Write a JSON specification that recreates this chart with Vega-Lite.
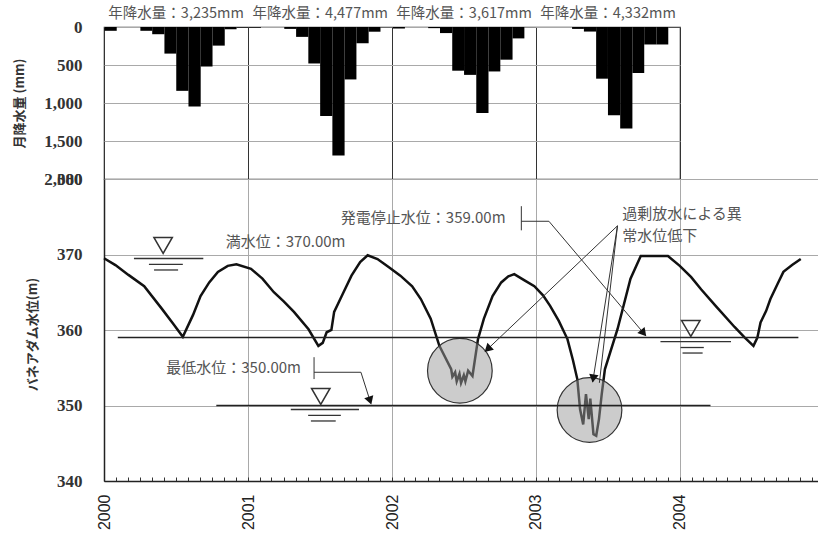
{
  "$schema": "https://vega.github.io/schema/vega-lite/v6.json",
  "background": "white",
  "padding": {"left": 12, "top": 5, "right": 0, "bottom": 0},
  "spacing": 0,
  "bounds": "flush",
  "config": {
    "font": "Noto Sans CJK JP",
    "view": {"stroke": null},
    "axis": {
      "labelFont": "Liberation Serif",
      "labelFontSize": 17,
      "labelFontWeight": "bold",
      "labelColor": "#333",
      "titleFont": "Noto Sans CJK JP",
      "titleFontSize": 13,
      "titleFontWeight": "bold",
      "titleColor": "#333",
      "gridColor": "#a9a9a9",
      "gridWidth": 1
    }
  },
  "datasets": {
    "rain": [
      {"month": "2000-01-01", "rain": 50}, {"month": "2000-02-01", "rain": 0}, {"month": "2000-03-01", "rain": 0},
      {"month": "2000-04-01", "rain": 50}, {"month": "2000-05-01", "rain": 95}, {"month": "2000-06-01", "rain": 350},
      {"month": "2000-07-01", "rain": 840}, {"month": "2000-08-01", "rain": 1045}, {"month": "2000-09-01", "rain": 520},
      {"month": "2000-10-01", "rain": 245}, {"month": "2000-11-01", "rain": 30}, {"month": "2000-12-01", "rain": 10},
      {"month": "2001-01-01", "rain": 10}, {"month": "2001-02-01", "rain": 0}, {"month": "2001-03-01", "rain": 0},
      {"month": "2001-04-01", "rain": 25}, {"month": "2001-05-01", "rain": 130}, {"month": "2001-06-01", "rain": 480},
      {"month": "2001-07-01", "rain": 1170}, {"month": "2001-08-01", "rain": 1690}, {"month": "2001-09-01", "rain": 690},
      {"month": "2001-10-01", "rain": 215}, {"month": "2001-11-01", "rain": 62}, {"month": "2001-12-01", "rain": 5},
      {"month": "2002-01-01", "rain": 20}, {"month": "2002-02-01", "rain": 0}, {"month": "2002-03-01", "rain": 0},
      {"month": "2002-04-01", "rain": 15}, {"month": "2002-05-01", "rain": 80}, {"month": "2002-06-01", "rain": 575},
      {"month": "2002-07-01", "rain": 630}, {"month": "2002-08-01", "rain": 1130}, {"month": "2002-09-01", "rain": 585},
      {"month": "2002-10-01", "rain": 430}, {"month": "2002-11-01", "rain": 150}, {"month": "2002-12-01", "rain": 2},
      {"month": "2003-01-01", "rain": 0}, {"month": "2003-02-01", "rain": 0}, {"month": "2003-03-01", "rain": 0},
      {"month": "2003-04-01", "rain": 25}, {"month": "2003-05-01", "rain": 60}, {"month": "2003-06-01", "rain": 680},
      {"month": "2003-07-01", "rain": 1160}, {"month": "2003-08-01", "rain": 1335}, {"month": "2003-09-01", "rain": 605},
      {"month": "2003-10-01", "rain": 230}, {"month": "2003-11-01", "rain": 230}, {"month": "2003-12-01", "rain": 7}
    ],
    "level": [
      {"t": "2000-01-01", "lv": 369.5}, {"t": "2000-01-30", "lv": 368.6}, {"t": "2000-03-03", "lv": 367.3},
      {"t": "2000-04-12", "lv": 365.8}, {"t": "2000-05-27", "lv": 362.8}, {"t": "2000-06-25", "lv": 360.8},
      {"t": "2000-07-19", "lv": 359.1}, {"t": "2000-08-14", "lv": 362.0}, {"t": "2000-09-02", "lv": 364.5},
      {"t": "2000-09-24", "lv": 366.3}, {"t": "2000-10-16", "lv": 367.7}, {"t": "2000-11-10", "lv": 368.5},
      {"t": "2000-12-02", "lv": 368.7}, {"t": "2001-01-08", "lv": 368.1}, {"t": "2001-02-06", "lv": 366.8},
      {"t": "2001-03-07", "lv": 365.0}, {"t": "2001-04-01", "lv": 363.8}, {"t": "2001-04-27", "lv": 362.4},
      {"t": "2001-06-03", "lv": 360.1}, {"t": "2001-06-28", "lv": 357.9}, {"t": "2001-07-09", "lv": 358.3},
      {"t": "2001-07-19", "lv": 359.7}, {"t": "2001-07-31", "lv": 360.0}, {"t": "2001-08-07", "lv": 362.4},
      {"t": "2001-08-29", "lv": 364.8}, {"t": "2001-09-20", "lv": 367.2}, {"t": "2001-10-12", "lv": 369.0},
      {"t": "2001-10-31", "lv": 369.9}, {"t": "2001-11-25", "lv": 369.4}, {"t": "2001-12-24", "lv": 368.3},
      {"t": "2002-01-22", "lv": 367.2}, {"t": "2002-02-21", "lv": 365.8}, {"t": "2002-03-15", "lv": 364.1},
      {"t": "2002-04-09", "lv": 361.5}, {"t": "2002-05-01", "lv": 357.9}, {"t": "2002-05-31", "lv": 354.8},
      {"t": "2002-06-03", "lv": 353.8}, {"t": "2002-06-10", "lv": 354.4}, {"t": "2002-06-14", "lv": 353.2},
      {"t": "2002-06-21", "lv": 354.2}, {"t": "2002-06-25", "lv": 353.0}, {"t": "2002-07-02", "lv": 354.0},
      {"t": "2002-07-06", "lv": 353.2}, {"t": "2002-07-13", "lv": 354.6}, {"t": "2002-07-24", "lv": 353.9},
      {"t": "2002-08-07", "lv": 358.8}, {"t": "2002-08-22", "lv": 361.5}, {"t": "2002-09-13", "lv": 364.5},
      {"t": "2002-10-05", "lv": 366.3}, {"t": "2002-10-23", "lv": 367.1}, {"t": "2002-11-07", "lv": 367.4},
      {"t": "2002-12-02", "lv": 366.6}, {"t": "2002-12-28", "lv": 365.8}, {"t": "2003-01-19", "lv": 364.6},
      {"t": "2003-02-06", "lv": 363.2}, {"t": "2003-02-28", "lv": 361.2}, {"t": "2003-03-22", "lv": 358.8},
      {"t": "2003-04-05", "lv": 356.0}, {"t": "2003-04-16", "lv": 353.5}, {"t": "2003-04-23", "lv": 349.5},
      {"t": "2003-05-01", "lv": 347.5}, {"t": "2003-05-08", "lv": 351.5}, {"t": "2003-05-15", "lv": 348.2},
      {"t": "2003-05-19", "lv": 350.9}, {"t": "2003-05-27", "lv": 346.2}, {"t": "2003-06-03", "lv": 346.0},
      {"t": "2003-06-10", "lv": 348.2}, {"t": "2003-06-17", "lv": 351.5}, {"t": "2003-06-25", "lv": 354.8},
      {"t": "2003-07-27", "lv": 360.1}, {"t": "2003-08-29", "lv": 366.8}, {"t": "2003-09-24", "lv": 369.8},
      {"t": "2003-12-02", "lv": 369.8}, {"t": "2004-01-01", "lv": 368.5}, {"t": "2004-01-30", "lv": 367.0},
      {"t": "2004-02-24", "lv": 365.4}, {"t": "2004-04-01", "lv": 363.2}, {"t": "2004-05-19", "lv": 360.4},
      {"t": "2004-06-14", "lv": 359.0}, {"t": "2004-07-06", "lv": 357.9}, {"t": "2004-07-16", "lv": 359.0},
      {"t": "2004-07-24", "lv": 361.0}, {"t": "2004-08-07", "lv": 362.5}, {"t": "2004-08-18", "lv": 364.1},
      {"t": "2004-09-06", "lv": 366.2}, {"t": "2004-09-20", "lv": 367.7}, {"t": "2004-10-12", "lv": 368.6},
      {"t": "2004-11-03", "lv": 369.4}
    ],
    "circles": [
      {"t": "2002-06-22", "lv": 354.6},
      {"t": "2003-05-17", "lv": 349.4}
    ],
    "levels": [
      {"t": "2000-02-05", "t2": "2004-10-28", "lv": 359, "lv2": 359},
      {"t": "2000-10-12", "t2": "2004-03-19", "lv": 350, "lv2": 350}
    ],
    "gauge": [
      {"t": "2000-03-17", "t2": "2000-09-09", "lv": 369.47, "lv2": 369.47},
      {"t": "2000-04-24", "t2": "2000-07-19", "lv": 368.68, "lv2": 368.68},
      {"t": "2000-05-07", "t2": "2000-07-07", "lv": 367.95, "lv2": 367.95},
      {"t": "2003-11-13", "t2": "2004-05-10", "lv": 358.47, "lv2": 358.47},
      {"t": "2004-01-03", "t2": "2004-03-02", "lv": 357.68, "lv2": 357.68},
      {"t": "2004-01-08", "t2": "2004-02-28", "lv": 356.95, "lv2": 356.95},
      {"t": "2001-04-19", "t2": "2001-10-09", "lv": 349.47, "lv2": 349.47},
      {"t": "2001-06-02", "t2": "2001-08-24", "lv": 348.68, "lv2": 348.68},
      {"t": "2001-06-09", "t2": "2001-08-11", "lv": 347.95, "lv2": 347.95}
    ],
    "gaugeMarks": [
      {"t": "2000-05-30", "lv": 371.2},
      {"t": "2004-01-29", "lv": 360.2},
      {"t": "2001-07-04", "lv": 351.2}
    ],
    "leaders": [
      {"t": "2002-11-25", "t2": "2002-11-25", "lv": 376.4, "lv2": 373.2},
      {"t": "2002-11-25", "t2": "2003-02-03", "lv": 374.4, "lv2": 374.4},
      {"t": "2003-02-03", "t2": "2003-10-06", "lv": 374.4, "lv2": 359.3},
      {"t": "2001-06-17", "t2": "2001-06-17", "lv": 356.4, "lv2": 353.5},
      {"t": "2001-06-17", "t2": "2001-10-14", "lv": 354.4, "lv2": 354.4},
      {"t": "2001-10-14", "t2": "2001-11-08", "lv": 354.4, "lv2": 350.3},
      {"t": "2003-07-27", "t2": "2002-08-26", "lv": 373.8, "lv2": 357.2},
      {"t": "2003-07-27", "t2": "2003-05-25", "lv": 373.8, "lv2": 353.1},
      {"t": "2003-07-27", "t2": "2003-06-11", "lv": 373.8, "lv2": 353.0}
    ],
    "notes": [
      {"t": "2000-11-05", "lv": 371.6, "label": "満水位：370.00m"},
      {"t": "2001-08-24", "lv": 374.8, "label": "発電停止水位：359.00m"},
      {"t": "2000-06-07", "lv": 355.0, "label": "最低水位：350.00m"},
      {"t": "2003-08-08", "lv": 375.4, "label": "過剰放水による異"},
      {"t": "2003-08-08", "lv": 372.5, "label": "常水位低下"}
    ]
  },
  "vconcat": [
    {
      "width": 576,
      "height": 152,
      "view": {"stroke": "#333", "strokeWidth": 1.2},
      "encoding": {
        "x": {
          "type": "temporal",
          "scale": {"type": "utc", "domain": [{"year": 2000, "month": 1, "date": 1, "utc": true}, {"year": 2004, "month": 1, "date": 1, "utc": true}]},
          "axis": {"title": null, "labels": false, "ticks": false, "domain": false, "grid": true, "gridColor": "#333", "tickCount": {"interval": "year", "step": 1}, "minExtent": 0, "maxExtent": 0}
        },
        "y": {
          "type": "quantitative",
          "scale": {"domain": [0, 2000], "reverse": true, "nice": false},
          "axis": {"values": [0, 500, 1000, 1500, 2000], "format": ",.0f", "title": "月降水量 (mm)", "titleX": -85, "titleY": 76, "titleBaseline": "middle", "domain": false, "ticks": false, "labelPadding": 22}
        }
      },
      "layer": [
        {
          "data": {"name": "rain"},
          "mark": {"type": "bar", "color": "#000", "binSpacing": 0, "timeUnitBandSize": 1},
          "encoding": {
            "x": {"field": "month", "timeUnit": "utcyearmonth"},
            "y": {"field": "rain"}
          }
        },
        {
          "data": {"name": "rain"},
          "transform": [
            {"timeUnit": "utcyear", "field": "month", "as": "yr"},
            {"aggregate": [{"op": "sum", "field": "rain", "as": "total"}], "groupby": ["yr"]},
            {"calculate": "'年降水量：' + format(datum.total, ',') + 'mm'", "as": "label"}
          ],
          "mark": {"type": "text", "fontSize": 14.5, "color": "#555", "baseline": "middle"},
          "encoding": {
            "x": {"field": "yr", "timeUnit": "utcyear", "bandPosition": 0.5},
            "y": {"datum": -170},
            "text": {"field": "label"}
          }
        }
      ]
    },
    {
      "width": 720,
      "height": 302,
      "encoding": {
        "x": {
          "field": "t", "type": "temporal",
          "scale": {"type": "utc", "domain": [{"year": 2000, "month": 1, "date": 1, "utc": true}, {"year": 2005, "month": 1, "date": 1, "utc": true}]},
          "axis": {
            "title": null,
            "tickCount": {"interval": "month", "step": 1},
            "labelExpr": "utcmonth(datum.value) == 0 && utcyear(datum.value) < 2005 ? utcFormat(datum.value, '%Y') : ''",
            "labelAngle": 270,
            "labelFont": "Liberation Sans",
            "labelFontWeight": "normal",
            "labelFontSize": 16,
            "labelColor": "#222",
            "labelPadding": 17,
            "labelOverlap": false,
            "labelFlush": false,
            "labelBound": false,
            "ticks": true,
            "tickSize": -4,
            "tickColor": "#333",
            "domainColor": "#222",
            "domainWidth": 1.5,
            "grid": true,
            "gridOpacity": {"condition": {"test": "utcmonth(datum.value) == 0", "value": 1}, "value": 0}
          }
        },
        "y": {
          "field": "lv", "type": "quantitative",
          "scale": {"domain": [340, 380], "nice": false, "zero": false},
          "axis": {"values": [340, 350, 360, 370, 380], "title": "バネアダム水位(m)", "titleX": -72, "titleY": 155, "titleBaseline": "middle", "domain": true, "domainColor": "#222", "domainWidth": 1.5, "ticks": false, "labelPadding": 22}
        }
      },
      "layer": [
        {"data": {"name": "level"}, "mark": {"type": "line", "color": "#111", "strokeWidth": 2.5}},
        {"data": {"name": "circles"}, "mark": {"type": "point", "shape": "circle", "filled": true, "size": 4185, "fill": "#999", "fillOpacity": 0.5, "opacity": 1, "stroke": "#333", "strokeWidth": 1.2, "strokeOpacity": 1}},
        {"data": {"name": "levels"}, "mark": {"type": "rule", "color": "#222", "strokeWidth": 1.5}, "encoding": {"x2": {"field": "t2"}, "y2": {"field": "lv2"}}},
        {"data": {"name": "gauge"}, "mark": {"type": "rule", "color": "#333", "strokeWidth": 1.3}, "encoding": {"x2": {"field": "t2"}, "y2": {"field": "lv2"}}},
        {"data": {"name": "gaugeMarks"}, "mark": {"type": "point", "shape": "triangle-down", "filled": false, "size": 340, "opacity": 1, "stroke": "#333", "strokeWidth": 1.5}},
        {"data": {"name": "leaders"}, "mark": {"type": "rule", "color": "#333", "strokeWidth": 1}, "encoding": {"x2": {"field": "t2"}, "y2": {"field": "lv2"}}},
        {"data": {"values": [{"t": "2003-09-29", "lv": 359.72}]}, "mark": {"type": "point", "shape": "triangle", "filled": true, "size": 90, "opacity": 1, "color": "#111", "angle": 140}},
        {"data": {"values": [{"t": "2001-11-05", "lv": 350.81}]}, "mark": {"type": "point", "shape": "triangle", "filled": true, "size": 90, "opacity": 1, "color": "#111", "angle": 162}},
        {"data": {"values": [{"t": "2002-09-03", "lv": 357.59}]}, "mark": {"type": "point", "shape": "triangle", "filled": true, "size": 90, "opacity": 1, "color": "#111", "angle": 227}},
        {"data": {"values": [{"t": "2003-05-27", "lv": 353.76}]}, "mark": {"type": "point", "shape": "triangle", "filled": true, "size": 90, "opacity": 1, "color": "#111", "angle": 189}},
        {"data": {"name": "notes"}, "mark": {"type": "text", "align": "left", "baseline": "middle", "fontSize": 15, "color": "#555"}, "encoding": {"text": {"field": "label"}}}
      ]
    }
  ]
}
